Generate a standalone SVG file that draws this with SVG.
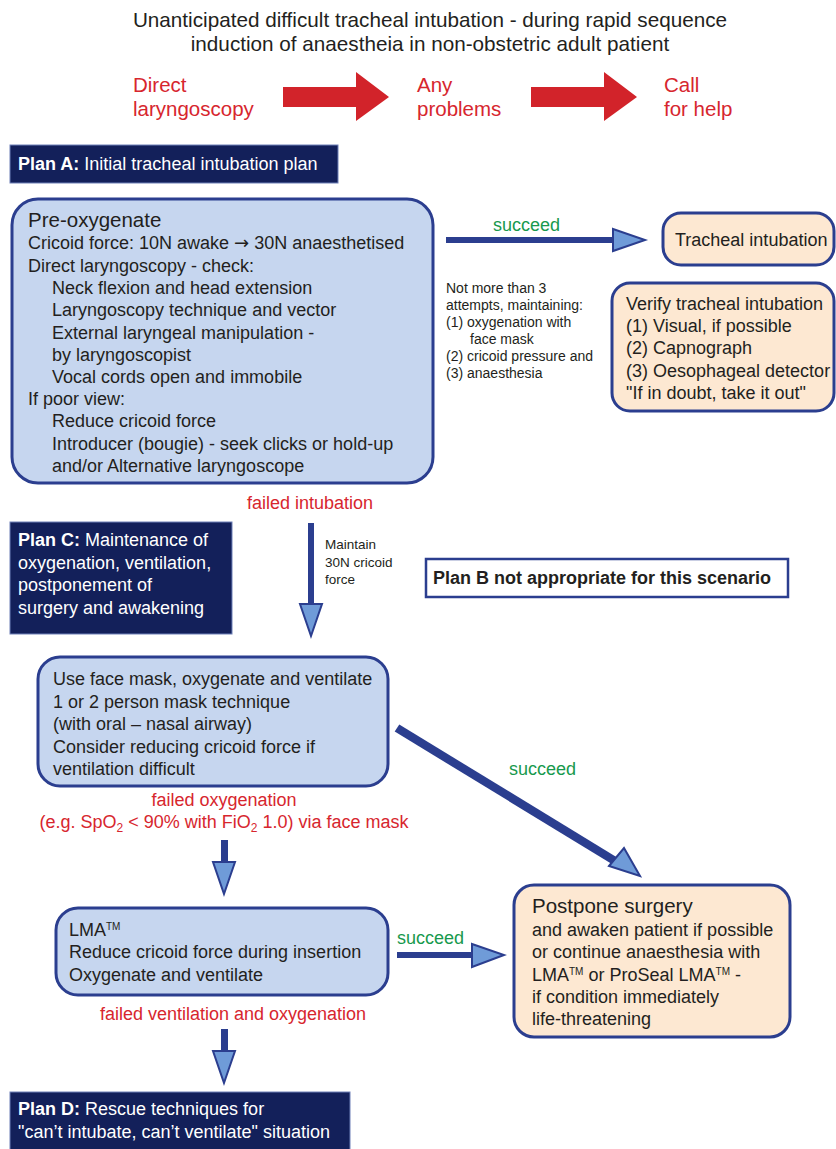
<svg xmlns="http://www.w3.org/2000/svg" width="836" height="1149" viewBox="0 0 836 1149">
<style>
text{font-family:"Liberation Sans",Arial,sans-serif;fill:#231f20}
.t{font-size:20.5px}
.tt{font-size:20.7px}
.r{fill:#d7262e}
.g{fill:#17994d}
.w{fill:#fff}
.b{font-weight:bold}
.n{font-size:18px}
.s{font-size:14px}
.xs{font-size:13.5px}
.plan{fill:#13205a;stroke:#6f80b8;stroke-width:1}
.blue{fill:#c6d6ef;stroke:#2b3e8f;stroke-width:3}
.peach{fill:#fde8d2;stroke:#2b3e8f;stroke-width:3}
.shaft{fill:#2b3e8f}
.head{fill:#6f9bd8;stroke:#2b3e8f;stroke-width:2;stroke-linejoin:miter}
.red{fill:#d2232a}
</style>
<g id="title">
<text class="tt" x="430" y="27" text-anchor="middle">Unanticipated difficult tracheal intubation - during rapid sequence</text>
<text class="tt" x="430" y="51" text-anchor="middle">induction of anaestheia in non-obstetric adult patient</text>
</g>
<g id="red-labels">
<text class="t r" x="133" y="92">Direct</text>
<text class="t r" x="133" y="116">laryngoscopy</text>
<text class="t r" x="417" y="92">Any</text>
<text class="t r" x="417" y="116">problems</text>
<text class="t r" x="664" y="92">Call</text>
<text class="t r" x="664" y="116">for help</text>
</g>
<g id="red-arrows">
<polygon class="red" points="283,87 356,87 356,72 389,97 356,121 356,107 283,107"/>
<polygon class="red" points="531,87 604,87 604,72 637,97 604,121 604,107 531,107"/>
</g>
<g id="planA">
<rect class="plan" x="10" y="145" width="328" height="38"/>
<text class="n w" x="18" y="170"><tspan class="b">Plan A:</tspan> Initial tracheal intubation plan</text>
</g>
<g id="preox">
<rect class="blue" x="12" y="199" width="421" height="284" rx="26"/>
<text class="n" x="28"><tspan x="28" y="227" style="font-size:20.5px">Pre-oxygenate</tspan><tspan x="28" y="249">Cricoid force: 10N awake <tspan style="font-family:'DejaVu Sans',sans-serif">→</tspan> 30N anaesthetised</tspan><tspan x="28" y="271.5">Direct laryngoscopy - check:</tspan><tspan x="52" y="294">Neck flexion and head extension</tspan><tspan x="52" y="316">Laryngoscopy technique and vector</tspan><tspan x="52" y="338.5">External laryngeal manipulation -</tspan><tspan x="52" y="360.5">by laryngoscopist</tspan><tspan x="52" y="382.5">Vocal cords open and immobile</tspan><tspan x="28" y="405">If poor view:</tspan><tspan x="52" y="427">Reduce cricoid force</tspan><tspan x="52" y="449.5">Introducer (bougie) - seek clicks or hold-up</tspan><tspan x="52" y="471.5">and/or Alternative laryngoscope</tspan></text>
</g>
<g id="tracheal">
<rect class="peach" x="663" y="213" width="171" height="52" rx="18"/>
<text class="n" x="675" y="246">Tracheal intubation</text>
</g>
<g id="verify">
<rect class="peach" x="612" y="283" width="222" height="128" rx="18"/>
<text class="n"><tspan x="626" y="310">Verify tracheal intubation</tspan><tspan x="626" y="332">(1) Visual, if possible</tspan><tspan x="626" y="354">(2) Capnograph</tspan><tspan x="626" y="376.5">(3) Oesophageal detector</tspan><tspan x="626" y="398.5">"If in doubt, take it out"</tspan></text>
</g>
<g id="attempts">
<text class="s"><tspan x="446" y="293">Not more than 3</tspan><tspan x="446" y="310">attempts, maintaining:</tspan><tspan x="446" y="327">(1) oxygenation with</tspan><tspan x="470" y="344">face mask</tspan><tspan x="446" y="361">(2) cricoid pressure and</tspan><tspan x="446" y="378">(3) anaesthesia</tspan></text>
</g>
<g id="planC">
<rect class="plan" x="10" y="522" width="222" height="112"/>
<text class="n w"><tspan x="18" y="546"><tspan class="b">Plan C:</tspan> Maintenance of</tspan><tspan x="18" y="568.5">oxygenation, ventilation,</tspan><tspan x="18" y="591">postponement of</tspan><tspan x="18" y="613.5">surgery and awakening</tspan></text>
</g>
<g id="planB">
<rect x="426" y="559" width="362" height="38" fill="#fff" stroke="#2b3e8f" stroke-width="2.5"/>
<text class="n b" x="433" y="584">Plan B not appropriate for this scenario</text>
</g>
<g id="facemask">
<rect class="blue" x="38" y="657" width="350" height="129" rx="22"/>
<text class="n"><tspan x="53" y="685">Use face mask, oxygenate and ventilate</tspan><tspan x="53" y="707.5">1 or 2 person mask technique</tspan><tspan x="53" y="730">(with oral – nasal airway)</tspan><tspan x="53" y="752.5">Consider reducing cricoid force if</tspan><tspan x="53" y="775">ventilation difficult</tspan></text>
</g>
<g id="lma">
<rect class="blue" x="56" y="908" width="332" height="87" rx="22"/>
<text class="n"><tspan x="69" y="936">LMA<tspan font-size="10" dy="-6">TM</tspan></tspan><tspan x="69" y="958">Reduce cricoid force during insertion</tspan><tspan x="69" y="980.5">Oxygenate and ventilate</tspan></text>
</g>
<g id="postpone">
<rect class="peach" x="514" y="885" width="276" height="152" rx="20"/>
<text class="n"><tspan x="532" y="913" style="font-size:20.5px">Postpone surgery</tspan><tspan x="532" y="936">and awaken patient if possible</tspan><tspan x="532" y="958">or continue anaesthesia with</tspan><tspan x="532" y="980.5">LMA<tspan font-size="10" dy="-6">TM</tspan><tspan dy="6"> or ProSeal LMA</tspan><tspan font-size="10" dy="-6">TM</tspan><tspan dy="6"> -</tspan></tspan><tspan x="532" y="1003">if condition immediately</tspan><tspan x="532" y="1025">life-threatening</tspan></text>
</g>
<g id="planD">
<rect class="plan" x="10" y="1092" width="340" height="60"/>
<text class="n w"><tspan x="18" y="1115"><tspan class="b">Plan D:</tspan> Rescue techniques for</tspan><tspan x="18" y="1138">"can’t intubate, can’t ventilate" situation</tspan></text>
</g>
<g id="connectors">
<rect class="shaft" x="446" y="237" width="168" height="6"/>
<polygon class="head" points="613,229 645,240 613,251"/>
<text class="n g" x="493" y="231">succeed</text>
<text class="n r" x="310" y="509" text-anchor="middle">failed intubation</text>
<rect class="shaft" x="308" y="523" width="6" height="82"/>
<polygon class="head" points="300,604 322,604 311,636"/>
<text class="xs"><tspan x="325" y="549">Maintain</tspan><tspan x="325" y="566.5">30N cricoid</tspan><tspan x="325" y="584">force</tspan></text>
<polygon class="shaft" points="394.7,731.5 399.3,724.5 618,858 613.5,865"/>
<polygon class="head" points="609,866 624,848 640,876"/>
<text class="n g" x="509" y="775">succeed</text>
<text class="n r" x="224" y="806" text-anchor="middle">failed oxygenation</text>
<text class="n r" x="224" y="828" text-anchor="middle">(e.g. SpO<tspan font-size="12" dy="4">2</tspan><tspan dy="-4"> &lt; 90% with FiO</tspan><tspan font-size="12" dy="4">2</tspan><tspan dy="-4"> 1.0) via face mask</tspan></text>
<rect class="shaft" x="221" y="840" width="7" height="23"/>
<polygon class="head" points="213,862 235,862 224,894"/>
<rect class="shaft" x="397" y="952" width="76" height="6"/>
<polygon class="head" points="472,944 504,955 472,967"/>
<text class="n g" x="397" y="944">succeed</text>
<text class="n r" x="233" y="1020" text-anchor="middle">failed ventilation and oxygenation</text>
<rect class="shaft" x="221" y="1029" width="7" height="23"/>
<polygon class="head" points="213,1051 235,1051 224,1083"/>
</g>
</svg>
